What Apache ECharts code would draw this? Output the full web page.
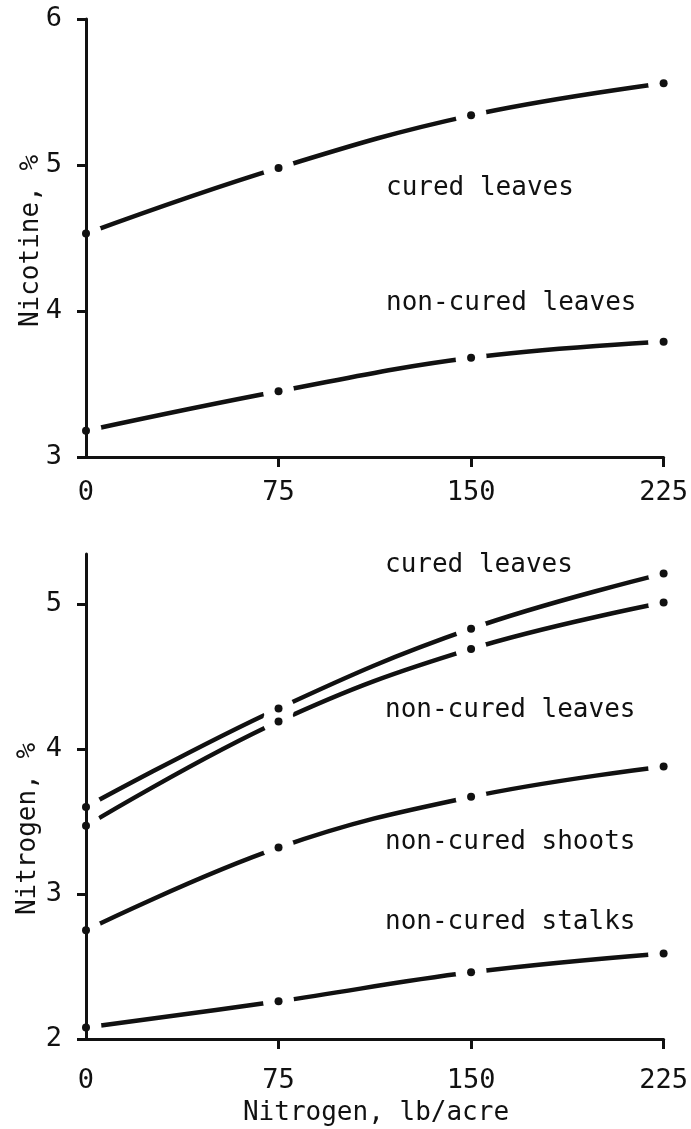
<!DOCTYPE html>
<html>
<head>
<meta charset="utf-8">
<script src="https://cdn.jsdelivr.net/npm/echarts@6/dist/echarts.min.js"></script>
<style>
  html, body { margin: 0; padding: 0; background: #fff; }
  #chart { width: 691px; height: 1129px; }
</style>
</head>
<body>
<div id="chart"></div>
<script>
// nitrogen applied, lb/acre
var nitrogenRates = [0, 75, 150, 225];
var xTicks = [0, 75, 150, 225];

// upper panel: nicotine, %
var nicotineCured = [4.53, 4.98, 5.34, 5.56];
var nicotineNonCured = [3.18, 3.45, 3.68, 3.79];
var nicotineTicks = [3, 4, 5, 6];

// lower panel: nitrogen, %
var nitrogenCuredLeaves = [3.60, 4.28, 4.83, 5.21];
var nitrogenNonCuredLeaves = [3.47, 4.19, 4.69, 5.01];
var nitrogenShoots = [2.75, 3.32, 3.67, 3.88];
var nitrogenStalks = [2.08, 2.26, 2.46, 2.59];
var nitrogenTicks = [2, 3, 4, 5];

var FONT = "'DejaVu Sans Mono', 'Liberation Mono', monospace";
var INK = '#111';

function pairs(ys) {
    return nitrogenRates.map(function (x, i) { return [x, ys[i]]; });
}

// one curve = smooth line + white gap around each point + black dot
function curve(ys, gi) {
    var d = pairs(ys);
    return [
        {
            type: 'line', xAxisIndex: gi, yAxisIndex: gi, data: d,
            smooth: 0.4, showSymbol: false, z: 2, silent: true,
            lineStyle: { color: INK, width: 4.5, cap: 'round' }
        },
        {
            type: 'scatter', xAxisIndex: gi, yAxisIndex: gi, data: d,
            symbol: 'circle', symbolSize: 31, z: 3, silent: true,
            itemStyle: { color: '#fff', opacity: 1 }
        },
        {
            type: 'scatter', xAxisIndex: gi, yAxisIndex: gi, data: d,
            symbol: 'circle', symbolSize: 8, z: 5, silent: true,
            itemStyle: { color: INK, opacity: 1 }
        }
    ];
}

function xAxisFor(gi, margin) {
    return {
        type: 'value', gridIndex: gi, min: 0, max: 225, interval: 75, z: 4,
        axisLine: { show: true, lineStyle: { color: INK, width: 3 } },
        axisTick: { show: true, inside: false, length: 10, lineStyle: { color: INK, width: 3 },
                    customValues: [75, 150, 225] },
        axisLabel: { show: true, color: INK, fontFamily: FONT, fontSize: 27, margin: margin,
                     customValues: xTicks },
        splitLine: { show: false }
    };
}

function yAxisFor(gi, min, max, ticks) {
    return {
        type: 'value', gridIndex: gi, min: min, max: max, interval: 1, z: 4,
        axisLine: { show: true, lineStyle: { color: INK, width: 3 } },
        axisTick: { show: true, inside: false, length: 9, lineStyle: { color: INK, width: 3 },
                    customValues: ticks },
        axisLabel: { show: true, color: INK, fontFamily: FONT, fontSize: 27, margin: 24,
                     customValues: ticks },
        splitLine: { show: false }
    };
}

function label(text, x, y) {
    return {
        type: 'text', x: x, y: y, z: 10,
        style: { text: text, fill: INK, font: '26px ' + FONT, textAlign: 'left', textVerticalAlign: 'middle' }
    };
}

function rotatedTitle(text, x, y) {
    return {
        type: 'text', x: x, y: y, rotation: Math.PI / 2, z: 10,
        style: { text: text, fill: INK, font: '26px ' + FONT, textAlign: 'center', textVerticalAlign: 'middle' }
    };
}

var chart = echarts.init(document.getElementById('chart'));

var series = []
    .concat(curve(nicotineCured, 0))
    .concat(curve(nicotineNonCured, 0))
    .concat(curve(nitrogenCuredLeaves, 1))
    .concat(curve(nitrogenNonCuredLeaves, 1))
    .concat(curve(nitrogenShoots, 1))
    .concat(curve(nitrogenStalks, 1));

chart.setOption({
    backgroundColor: '#fff',
    animation: false,
    grid: [
        { left: 86, top: 19, width: 579, height: 438 },
        { left: 86, top: 554, width: 579, height: 485 }
    ],
    xAxis: [xAxisFor(0, 22), xAxisFor(1, 28)],
    yAxis: [yAxisFor(0, 3, 6, nicotineTicks), yAxisFor(1, 2, 5.345, nitrogenTicks)],
    series: series,
    graphic: [
        rotatedTitle('Nicotine, %', 31, 241),
        rotatedTitle('Nitrogen, %', 28, 829),
        label('cured leaves', 386, 188),
        label('non-cured leaves', 386, 303),
        label('cured leaves', 385, 565),
        label('non-cured leaves', 385, 710),
        label('non-cured shoots', 385, 842),
        label('non-cured stalks', 385, 922),
        {
            type: 'text', x: 376, y: 1113, z: 10,
            style: { text: 'Nitrogen, lb/acre', fill: INK, font: '26px ' + FONT,
                     textAlign: 'center', textVerticalAlign: 'middle' }
        }
    ]
});
</script>
</body>
</html>
